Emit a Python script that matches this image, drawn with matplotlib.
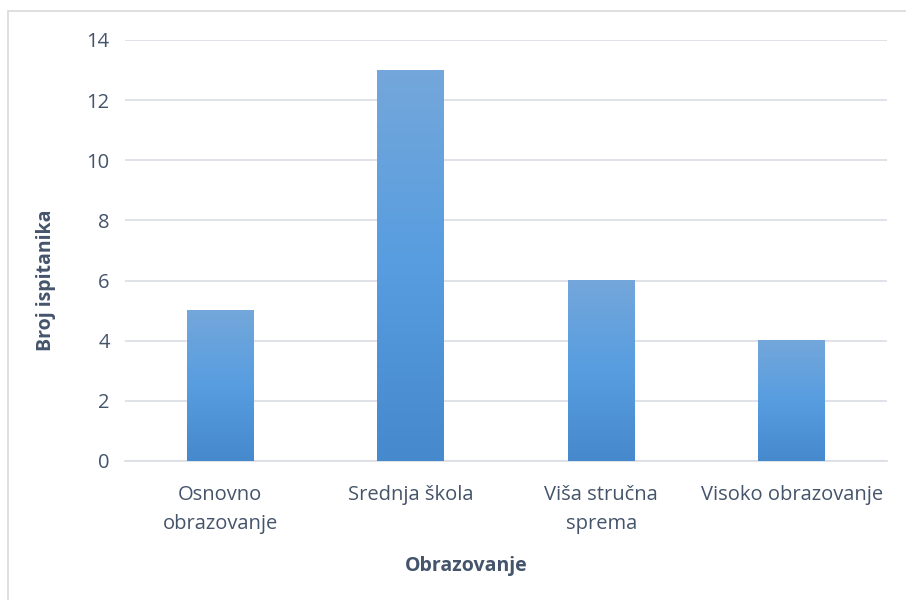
import numpy as np
import matplotlib.pyplot as plt
from matplotlib.colors import LinearSegmentedColormap
from matplotlib.patches import Rectangle

categories = ["Osnovno\nobrazovanje", "Srednja škola", "Viša stručna\nsprema", "Visoko obrazovanje"]
values = [5, 13, 6, 4]
yticks = [0, 2, 4, 6, 8, 10, 12, 14]

text_color = "#44546a"
grid_color = "#d9dde4"

plt.rcParams['font.family'] = ['Open Sans', 'DejaVu Sans']

fig = plt.figure(figsize=(9.06, 6.0), dpi=100)
ax = fig.add_axes([0.138, 0.2317, 0.841, 0.7017])

# chart frame (partly cut off like the original screenshot)
fig.patches.append(Rectangle((8 / 906, -0.1), 1.2, 1 - 11 / 600 + 0.1,
                             transform=fig.transFigure, fill=False,
                             edgecolor="#d9d9d9", lw=1.2))

x = np.arange(len(categories))
bars = ax.bar(x, values, width=0.35, color="none", zorder=3)

cmap = LinearSegmentedColormap.from_list("g", ["#4689cc", "#579de0", "#74a7db"])
grad = np.linspace(0, 1, 256).reshape(-1, 1)
for b in bars:
    x0, y0 = b.get_x(), b.get_y()
    ax.imshow(grad, cmap=cmap, origin="lower", aspect="auto", zorder=3,
              extent=[x0, x0 + b.get_width(), y0, y0 + b.get_height()])

ax.set_xlim(-0.5, len(categories) - 0.5)
ax.set_ylim(0, 14)
ax.set_yticks(yticks)
ax.set_xticks(x)
ax.set_xticklabels(categories, linespacing=1.6)

ax.yaxis.grid(True, color=grid_color, lw=1.2, zorder=0)
ax.set_axisbelow(True)
for s in ["top", "right", "left"]:
    ax.spines[s].set_visible(False)
ax.spines["bottom"].set_color(grid_color)
ax.spines["bottom"].set_linewidth(1.2)

ax.tick_params(axis="both", length=0, labelsize=14.5, colors=text_color)
ax.tick_params(axis="y", pad=11)
ax.tick_params(axis="x", pad=17)

ax.set_ylabel("Broj ispitanika", fontsize=14, fontweight="bold", color=text_color, va="center")
ax.yaxis.set_label_coords(-0.104, 0.43)
ax.set_xlabel("Obrazovanje", fontsize=14, fontweight="bold", color=text_color, va="center")
ax.xaxis.set_label_coords(0.4475, -0.249)

fig.savefig("out.png", dpi=100)
